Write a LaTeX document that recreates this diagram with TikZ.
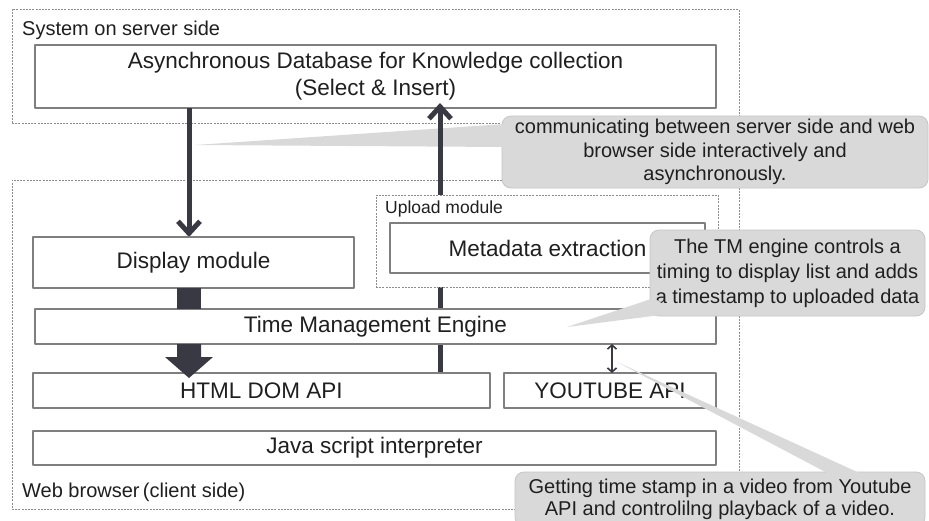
\documentclass[tikz,border=0pt]{standalone}
\usepackage{fontspec}
\setmainfont{Liberation Sans}
\usetikzlibrary{arrows.meta,calc}
\definecolor{arrowdark}{HTML}{393944}
\definecolor{calloutgray}{HTML}{D9D9D9}
\definecolor{calloutedge}{HTML}{C6C6C6}
\definecolor{boxedge}{HTML}{7F7F7F}
\definecolor{zoneedge}{HTML}{8C8C8C}
\definecolor{textdark}{HTML}{1F1F1F}
\begin{document}
\begin{tikzpicture}[x=1pt,y=-1pt,line join=round,
		box/.style={draw=boxedge,line width=1.1pt,fill=white,inner sep=0pt,outer sep=0pt,align=center,text=textdark,font=\fontsize{22.5}{27}\selectfont},
		zone/.style={draw=zoneedge,line width=0.8pt,dash pattern=on 2pt off 1.2pt,inner sep=0pt,outer sep=0pt},
		note/.style={fill=calloutgray,draw=calloutedge,line width=0.8pt,rounded corners=9pt,inner sep=0pt,outer sep=0pt,align=center,text=textdark,font=\fontsize{20}{23.5}\selectfont},
		flow/.style={draw=arrowdark,line width=5pt,-{Straight Barb[length=12pt,width=22pt]}},
		tag/.style={anchor=west,inner sep=0pt,text=textdark,font=\fontsize{20}{24}\selectfont}]
	\clip (0,0) rectangle (929,520);
	\fill[white] (0,0) rectangle (929,520);
	\coordinate (ax) at (189,0);
	\coordinate (up) at (440,0);
	\coordinate (yx) at (612,0);
	% server and client frames
	\node[zone,minimum width=727pt,minimum height=114pt] (server) at (375.5,66) {};
	\node[tag] (servertag) at (22,30) {System on server side};
	\node[zone,minimum width=727pt,minimum height=329pt] (client) at (375.5,344.5) {};
	\node[tag] (clienttag) at (22,492) {Web browser\,(client side)};
	\node[box,minimum width=681pt,minimum height=63pt] (db) at (375.5,76.5) {Asynchronous Database for Knowledge collection\\(Select \& Insert)};
	% callout between server and browser
	\node[note,minimum width=426pt,minimum height=72pt] (note1) at (715,152) {communicating between server side and web\\browser side interactively and\\asynchronously.};
	\coordinate (tip1) at (195,145);
	\fill[calloutgray] (tip1) -- ($(note1.west)+(3,-28)$) -- ($(note1.west)+(3,-5)$) -- cycle;
	% data flow
	\draw[flow] (db.south -| ax) -- (237,237 -| ax);
	\draw[flow] (373,373 -| up) -- ($(db.south -| up)+(0,-5)$);
	% browser side modules
	\node[box,minimum width=321pt,minimum height=51pt] (disp) at (193.5,262.5) {Display module};
	\node[zone,fill=white,minimum width=342pt,minimum height=92pt] (upload) at (547,241) {};
	\node[tag,font=\fontsize{17.5}{20}\selectfont] (uploadtag) at (385,209) {Upload module};
	\node[box,minimum width=315pt,minimum height=50pt] (meta) at (547.5,248) {Metadata extraction};
	\node[box,minimum width=681pt,minimum height=35pt] (tme) at (375.5,326.5) {Time Management Engine};
	\node[box,minimum width=457pt,minimum height=35pt] (html) at (261.5,390.5) {HTML DOM API};
	\node[box,minimum width=212pt,minimum height=35pt] (yt) at (610,390.5) {YOUTUBE API};
	\node[box,minimum width=683pt,minimum height=34pt] (js) at (374.5,448) {Java script interpreter};
	\fill[arrowdark] ($(disp.south -| ax)+(-12,0)$) rectangle ($(tme.north -| ax)+(12,0)$);
	\fill[arrowdark] ($(tme.south -| ax)+(-12,0)$) -- ++(0,13) -- ++(-12,0) -- ($(html.north -| ax)+(0,5)$)
		-- ($(tme.south -| ax)+(24,13)$) -- ++(-12,0) -- ++(0,-13) -- cycle;
	\draw[arrowdark,line width=1.6pt,{Straight Barb[length=4pt,width=9pt]}-{Straight Barb[length=4pt,width=9pt]}] (tme.south -| yx) -- (yt.north -| yx);
	% callouts on the browser side
	\node[note,font=\fontsize{20}{25}\selectfont,minimum width=275pt,minimum height=86pt] (note2) at (787.5,273) {The TM engine controls a\\timing to display list and adds\\a timestamp to uploaded data};
	\coordinate (tip2) at (567,327);
	\fill[calloutgray] (tip2) -- ($(note2.south west)+(4,-18)$) -- ($(note2.south west)+(26,-3)$) -- cycle;
	\node[note,font=\fontsize{20}{22}\selectfont,minimum width=410pt,minimum height=54pt] (note3) at (720,499) {Getting time stamp in a video from Youtube\\API and controlilng playback of a video.};
	\coordinate (tip3) at (617,362);
	\fill[calloutgray] (tip3) -- ($(note3.north west)+(318,4)$) -- ($(note3.north west)+(351,4)$) -- cycle;
\end{tikzpicture}
\end{document}
